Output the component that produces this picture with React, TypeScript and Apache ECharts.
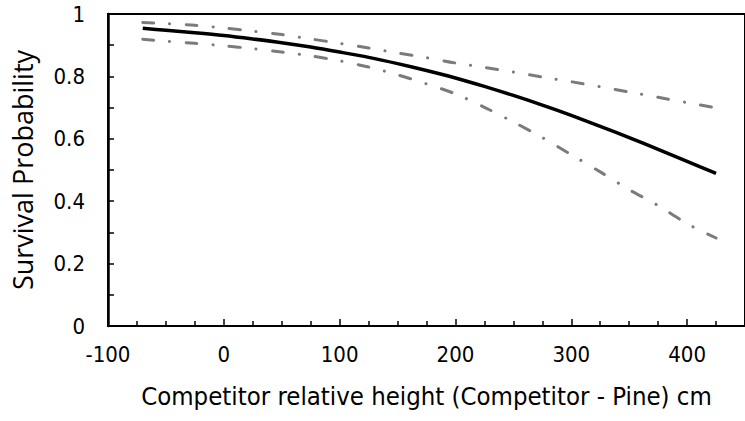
import React, { useEffect, useRef } from "react";
import * as echarts from "echarts";

const heights = [-70, -50, -25, 0, 25, 50, 75, 100, 125, 150, 175, 200, 225, 250, 275, 300, 325, 350, 375, 400, 425];
const survival = [0.954, 0.948, 0.94, 0.931, 0.92, 0.908, 0.894, 0.878, 0.861, 0.841, 0.819, 0.795, 0.768, 0.739, 0.708, 0.675, 0.64, 0.604, 0.566, 0.528, 0.489];
const upperBound = [0.973, 0.969, 0.964, 0.955, 0.945, 0.934, 0.92, 0.906, 0.891, 0.875, 0.86, 0.843, 0.829, 0.814, 0.798, 0.783, 0.767, 0.75, 0.733, 0.716, 0.699];
const lowerBound = [0.919, 0.913, 0.906, 0.898, 0.889, 0.878, 0.866, 0.85, 0.83, 0.805, 0.776, 0.744, 0.701, 0.654, 0.604, 0.549, 0.494, 0.437, 0.386, 0.328, 0.282];

const xTitle = "Competitor relative height (Competitor - Pine) cm";
const yTitle = "Survival Probability";

const narrow = "'Liberation Sans Narrow', 'DejaVu Sans Condensed', 'Open Sans', sans-serif";
const wide = "'Open Sans', 'Liberation Sans', sans-serif";

const zip = (ys: number[]) => heights.map((x, i) => [x, ys[i]]);

export default function App() {
  const ref = useRef<HTMLDivElement>(null);
  useEffect(() => {
    if (!ref.current) return;
    const chart = echarts.init(ref.current, null, { renderer: "svg" });
    const ciStyle = {
      color: "#7b7b7b",
      width: 3,
      type: [11, 16, 0.1, 16.3] as any,
      cap: "round" as const,
    };
    chart.setOption({
      animation: false,
      backgroundColor: "#ffffff",
      grid: {
        left: 108,
        top: 14,
        width: 642,
        bottom: 95,
        show: true,
        borderColor: "#000",
        borderWidth: 2,
        backgroundColor: "transparent",
      },
      xAxis: {
        type: "value",
        min: -100,
        max: 450,
        interval: 100,
        name: xTitle,
        nameLocation: "middle",
        nameGap: 57,
        nameTextStyle: { fontFamily: narrow, fontSize: 25.5, color: "#000" },
        axisLine: { show: true, onZero: false, lineStyle: { color: "#000", width: 2 } },
        axisTick: { show: true, inside: true, length: 7, lineStyle: { color: "#000", width: 1.5 } },
        minorTick: { show: true, splitNumber: 4, length: 5, lineStyle: { color: "#000", width: 1.5 } },
        splitLine: { show: false },
        axisLabel: { fontFamily: narrow, fontSize: 22, color: "#000", margin: 17, showMaxLabel: false },
      },
      yAxis: {
        type: "value",
        min: 0,
        max: 1,
        interval: 0.2,
        name: yTitle,
        nameLocation: "middle",
        nameGap: 72,
        nameTextStyle: { fontFamily: wide, fontSize: 27, color: "#000" },
        axisLine: { show: true, onZero: false, lineStyle: { color: "#000", width: 2.5 } },
        axisTick: { show: true, inside: true, length: 6, lineStyle: { color: "#000", width: 1.5 } },
        minorTick: { show: true, splitNumber: 2, length: 6, lineStyle: { color: "#000", width: 1.5 } },
        splitLine: { show: false },
        axisLabel: { fontFamily: narrow, fontSize: 22, color: "#000", margin: 23 },
      },
      series: [
        {
          type: "line",
          data: zip(upperBound),
          showSymbol: false,
          smooth: 0.3,
          lineStyle: ciStyle,
        },
        {
          type: "line",
          data: zip(lowerBound),
          showSymbol: false,
          smooth: 0.3,
          lineStyle: ciStyle,
        },
        {
          type: "line",
          data: zip(survival),
          showSymbol: false,
          smooth: 0.3,
          lineStyle: { color: "#000", width: 3.5 },
        },
      ],
    });
    return () => chart.dispose();
  }, []);
  return <div ref={ref} style={{ width: 745, height: 421, position: "absolute", left: 0, top: 0 }} />;
}
